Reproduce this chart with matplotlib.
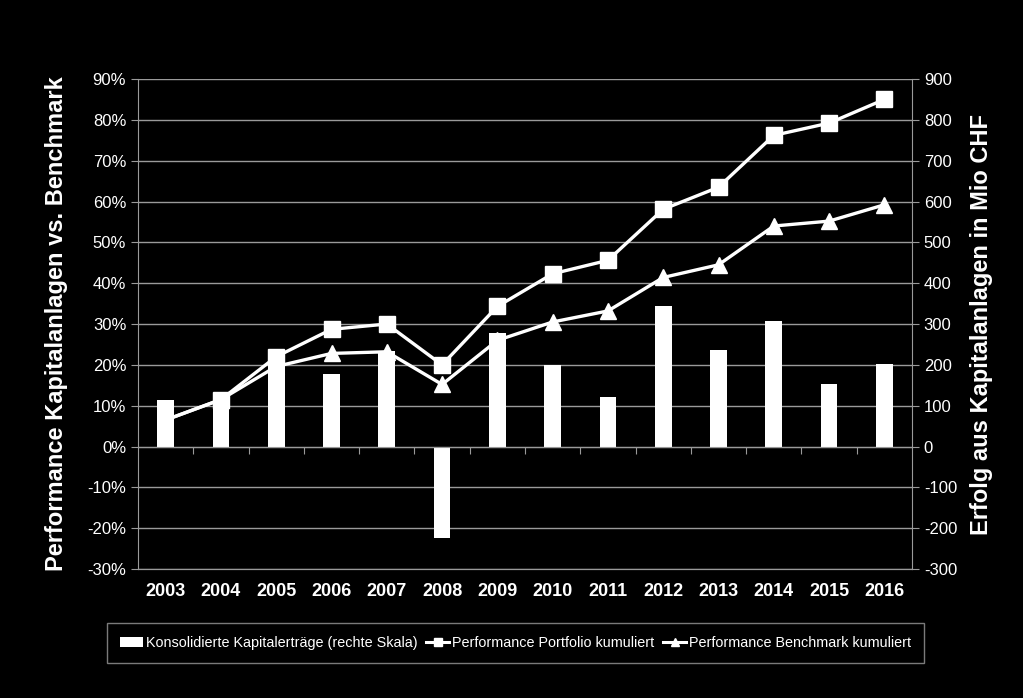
import numpy as np
import matplotlib.pyplot as plt

plt.rcParams['font.family'] = ['Liberation Sans', 'DejaVu Sans']
plt.rcParams['axes.unicode_minus'] = False

# Daten
jahre = ['2003', '2004', '2005', '2006', '2007', '2008', '2009',
         '2010', '2011', '2012', '2013', '2014', '2015', '2016']
ertraege = [115, 125, 205, 178, 235, -225, 278, 200, 122, 345, 237, 308, 154, 203]  # Mio CHF
portfolio = [6.5, 11.5, 22.0, 28.7, 30.0, 20.0, 34.3, 42.3, 45.6, 58.1, 63.5, 76.2, 79.2, 85.0]  # %
benchmark = [6.5, 11.5, 19.6, 22.8, 23.2, 15.2, 26.0, 30.5, 33.2, 41.4, 44.5, 54.0, 55.2, 59.2]  # %

grau = '#9a9a9a'
x = np.arange(len(jahre))

fig = plt.figure(figsize=(10.23, 6.98), dpi=100, facecolor='black')
ax = fig.add_axes([0.1349, 0.1848, 0.7566, 0.702])
ax2 = ax.twinx()

# Balken auf der rechten Achse
ax2.set_facecolor('black')
ax2.bar(x, ertraege, width=0.3, color='white', zorder=3,
        label='Konsolidierte Kapitalerträge (rechte Skala)')
ax2.set_ylim(-300, 900)
ax2.set_yticks(np.arange(-300, 901, 100))
ax2.grid(axis='y', color=grau, linewidth=1)
ax2.set_axisbelow(True)

# Linien auf der linken Achse, über den Balken
ax.set_zorder(ax2.get_zorder() + 1)
ax.patch.set_visible(False)
ax.plot(x, np.array(portfolio) / 100, color='white', linewidth=2.4, marker='s',
        markersize=12, markevery=list(range(1, len(x))),
        label='Performance Portfolio kumuliert')
ax.plot(x, np.array(benchmark) / 100, color='white', linewidth=2.4, marker='^',
        markersize=12, markevery=list(range(1, len(x))),
        label='Performance Benchmark kumuliert')
ax.set_ylim(-0.3, 0.9)
ax.set_xlim(-0.5, len(x) - 0.5)
ax.set_yticks(np.arange(-0.3, 0.91, 0.1))
ax.set_yticklabels([f'{int(round(v * 100))}%' for v in np.arange(-0.3, 0.91, 0.1)])

# Achsen-Styling
for a in (ax, ax2):
    for s in a.spines.values():
        s.set_color(grau)
    a.spines['top'].set_visible(False)
ax.spines['right'].set_visible(False)
ax2.spines['left'].set_visible(False)

ax.tick_params(axis='y', colors=grau, labelcolor='white', labelsize=12, length=5)
ax2.tick_params(axis='y', colors=grau, labelcolor='white', labelsize=12, length=5)
ax.set_xticks(x)
ax.set_xticklabels(jahre, color='white', fontsize=13, fontweight='bold')
ax.tick_params(axis='x', length=0, pad=10)

# Nulllinie mit Teilstrichen zwischen den Jahren
null = ax.secondary_xaxis(0.25)
null.set_xticks(np.arange(0.5, len(x) - 0.5, 1))
null.set_xticklabels([])
null.spines['bottom'].set_color(grau)
null.tick_params(axis='x', colors=grau, length=5, direction='out')

ax.set_ylabel('Performance Kapitalanlagen vs. Benchmark', color='white',
              fontsize=17, fontweight='bold', labelpad=14)
ax2.set_ylabel('Erfolg aus Kapitalanlagen in Mio CHF', color='white',
               fontsize=17, fontweight='bold', labelpad=9)

# Legende
h1, l1 = ax2.get_legend_handles_labels()
h2, l2 = ax.get_legend_handles_labels()
leg = fig.legend(h1 + h2, l1 + l2, loc='center', bbox_to_anchor=(0.504, 0.079),
                 ncol=3, frameon=True, facecolor='black', edgecolor=grau,
                 fancybox=False, handlelength=1.6, handletextpad=0.2,
                 columnspacing=0.6, borderpad=0.9,
                 prop={'size': 10.4})
for t in leg.get_texts():
    t.set_color('white')
for hnd in leg.legend_handles[1:]:
    hnd.set_markersize(6)
    hnd.set_linewidth(2.2)

fig.savefig('out.png', dpi=100, facecolor='black')
